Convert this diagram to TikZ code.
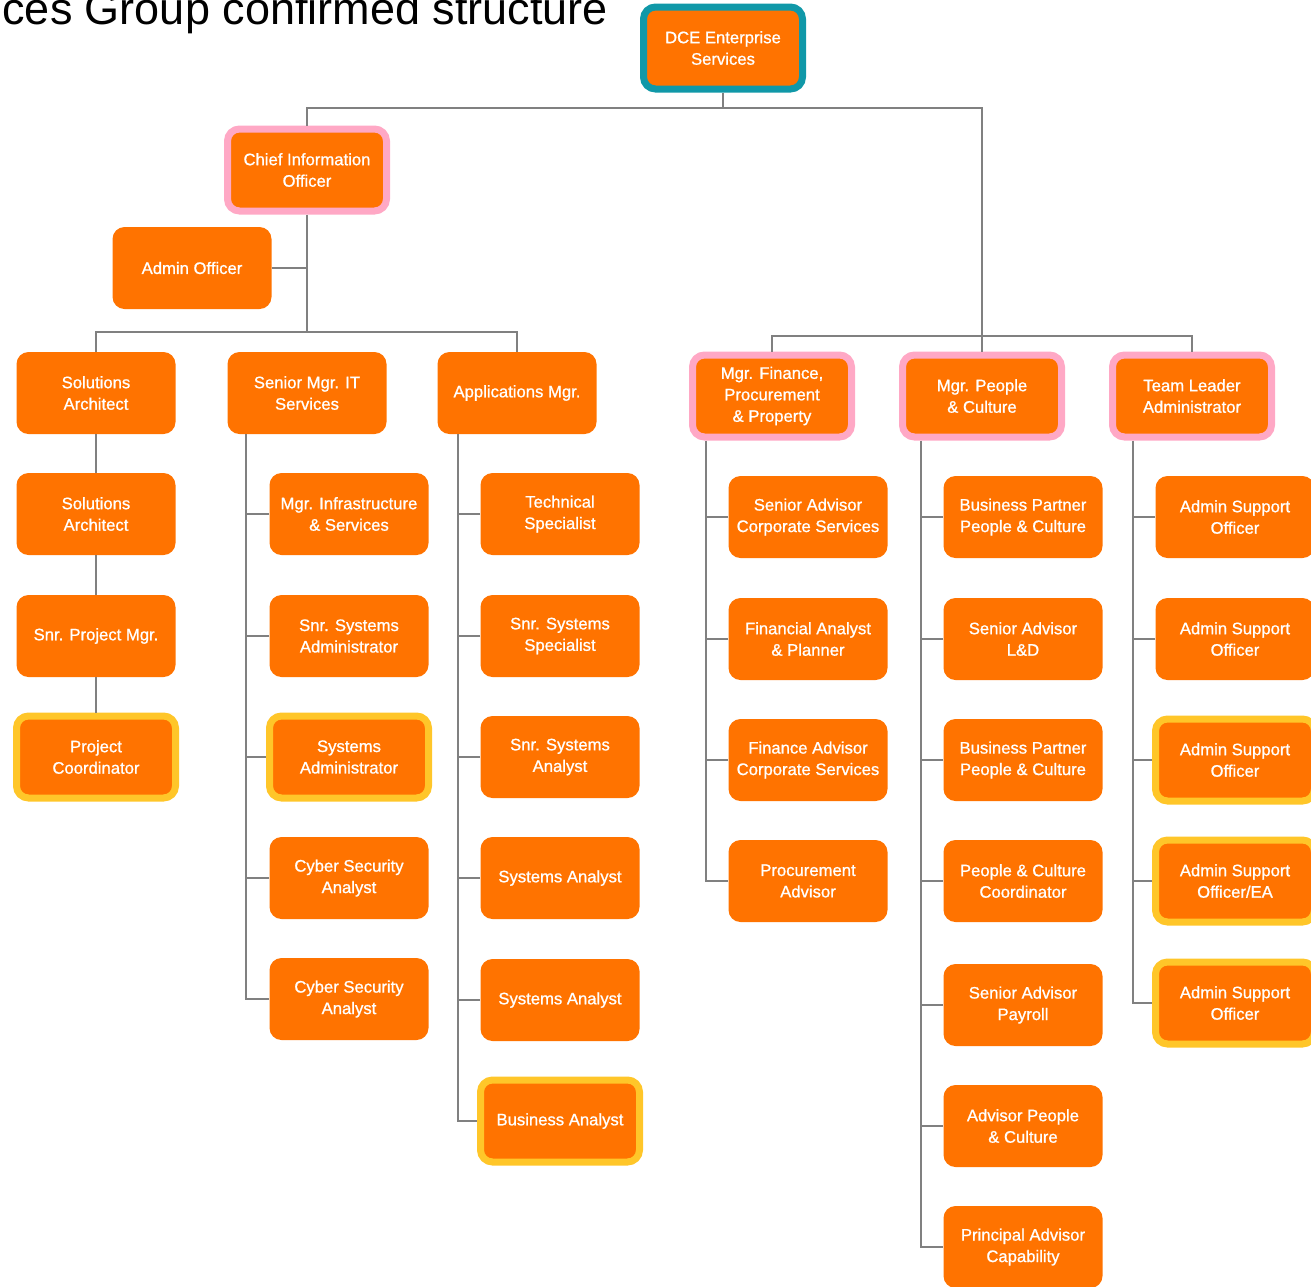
\documentclass[tikz,border=0pt]{standalone}
\usepackage{fontspec}
\setmainfont{Liberation Sans}
\newfontfamily\boxfont{Liberation Sans}[FakeBold=0.9]
\definecolor{orng}{HTML}{FF7300}
\definecolor{pinkc}{HTML}{FFA8C5}
\definecolor{yelc}{HTML}{FFC629}
\definecolor{tealc}{HTML}{1098A8}
\definecolor{linec}{HTML}{808080}
\tikzset{
  box/.style={rectangle, rounded corners=9pt, fill=orng, text=white, align=center,
    minimum width=119.25pt, minimum height=61.5pt, inner sep=0pt,
    font=\boxfont\fontsize{12.5}{16.1}\selectfont},
  pinkbox/.style={box, draw=pinkc, line width=5.25pt},
  yelbox/.style={box, draw=yelc, line width=5.25pt},
  tealbox/.style={box, draw=tealc, line width=5.25pt},
  conn/.style={draw=linec, line width=1.1pt},
}
\begin{document}
\begin{tikzpicture}[x=0.75pt,y=-0.75pt]
\useasboundingbox (0,0) rectangle (1311,1286);
\clip (0,0) rectangle (1311,1286);
\node[anchor=base east, font=\fontsize{33.75}{40}\selectfont, inner sep=0pt] (title) at (608,24) {ces Group confirmed structure};

\node[tealbox] (dce) at (723,48) {DCE Enterprise\\Services};
\node[pinkbox] (cio) at (307,170) {Chief Information\\Officer};
\node[box] (admin) at (192,268) {Admin Officer};

\node[box] (sa1) at (96,393) {Solutions\\Architect};
\node[box] (sa2) at (96,514) {Solutions\\Architect};
\node[box] (spm) at (96,636) {Snr. Project Mgr.};
\node[yelbox] (pc) at (96,757) {Project\\Coordinator};

\node[box] (smit) at (307,393) {Senior Mgr. IT\\Services};
\node[box] (b1) at (349,514) {Mgr. Infrastructure\\\& Services};
\node[box] (b2) at (349,636) {Snr. Systems\\Administrator};
\node[yelbox] (b3) at (349,757) {Systems\\Administrator};
\node[box] (b4) at (349,878) {Cyber Security\\Analyst};
\node[box] (b5) at (349,999) {Cyber Security\\Analyst};

\node[box] (apm) at (517,393) {Applications Mgr.};
\node[box] (c1) at (560,514) {Technical\\Specialist};
\node[box] (c2) at (560,636) {Snr. Systems\\Specialist};
\node[box] (c3) at (560,757) {Snr. Systems\\Analyst};
\node[box] (c4) at (560,878) {Systems Analyst};
\node[box] (c5) at (560,1000) {Systems Analyst};
\node[yelbox] (c6) at (560,1121) {Business Analyst};

\node[pinkbox] (mfin) at (772,396) {Mgr. Finance,\\Procurement\\\& Property};
\node[box] (f1) at (808,517) {Senior Advisor\\Corporate Services};
\node[box] (f2) at (808,639) {Financial Analyst\\\& Planner};
\node[box] (f3) at (808,760) {Finance Advisor\\Corporate Services};
\node[box] (f4) at (808,881) {Procurement\\Advisor};

\node[pinkbox] (mpc) at (982,396) {Mgr. People\\\& Culture};
\node[box] (p1) at (1023,517) {Business Partner\\People \& Culture};
\node[box] (p2) at (1023,639) {Senior Advisor\\L\&D};
\node[box] (p3) at (1023,760) {Business Partner\\People \& Culture};
\node[box] (p4) at (1023,881) {People \& Culture\\Coordinator};
\node[box] (p5) at (1023,1005) {Senior Advisor\\Payroll};
\node[box] (p6) at (1023,1126) {Advisor People\\\& Culture};
\node[box] (p7) at (1023,1247) {Principal Advisor\\Capability};

\node[pinkbox] (tl) at (1192,396) {Team Leader\\Administrator};
\node[box] (t1) at (1235,517) {Admin Support\\Officer};
\node[box] (t2) at (1235,639) {Admin Support\\Officer};
\node[yelbox] (t3) at (1235,760) {Admin Support\\Officer};
\node[yelbox] (t4) at (1235,881) {Admin Support\\Officer/EA};
\node[yelbox] (t5) at (1235,1003) {Admin Support\\Officer};

% connectors
\coordinate (top) at (723,108);
\coordinate (rb) at (982,336);
\coordinate (cb) at (307,332);
\coordinate (bx) at (246,0);
\coordinate (cx) at (458,0);
\coordinate (fx) at (706,0);
\coordinate (px) at (921,0);
\coordinate (tx) at (1133,0);

\draw[conn] (dce.south) -- (top);
\draw[conn] (cio.north) |- (top) -| (mpc.north);
\draw[conn] (mfin.north) |- (rb) -| (tl.north);
\draw[conn] (cio.south) -- (cb);
\draw[conn] (admin.east) -- (admin.east -| cio.south);
\draw[conn] (sa1.north) |- (cb) -| (apm.north);

\draw[conn] (sa1.south) -- (sa2.north);
\draw[conn] (sa2.south) -- (spm.north);
\draw[conn] (spm.south) -- (pc.north);

\draw[conn] (smit.south -| bx) |- (b5.west);
\foreach \n in {b1,b2,b3,b4} \draw[conn] (\n.west) -- (\n.west -| bx);
\draw[conn] (apm.south -| cx) |- (c6.west);
\foreach \n in {c1,c2,c3,c4,c5} \draw[conn] (\n.west) -- (\n.west -| cx);
\draw[conn] (mfin.south -| fx) |- (f4.west);
\foreach \n in {f1,f2,f3} \draw[conn] (\n.west) -- (\n.west -| fx);
\draw[conn] (mpc.south -| px) |- (p7.west);
\foreach \n in {p1,p2,p3,p4,p5,p6} \draw[conn] (\n.west) -- (\n.west -| px);
\draw[conn] (tl.south -| tx) |- (t5.west);
\foreach \n in {t1,t2,t3,t4} \draw[conn] (\n.west) -- (\n.west -| tx);
\end{tikzpicture}
\end{document}
